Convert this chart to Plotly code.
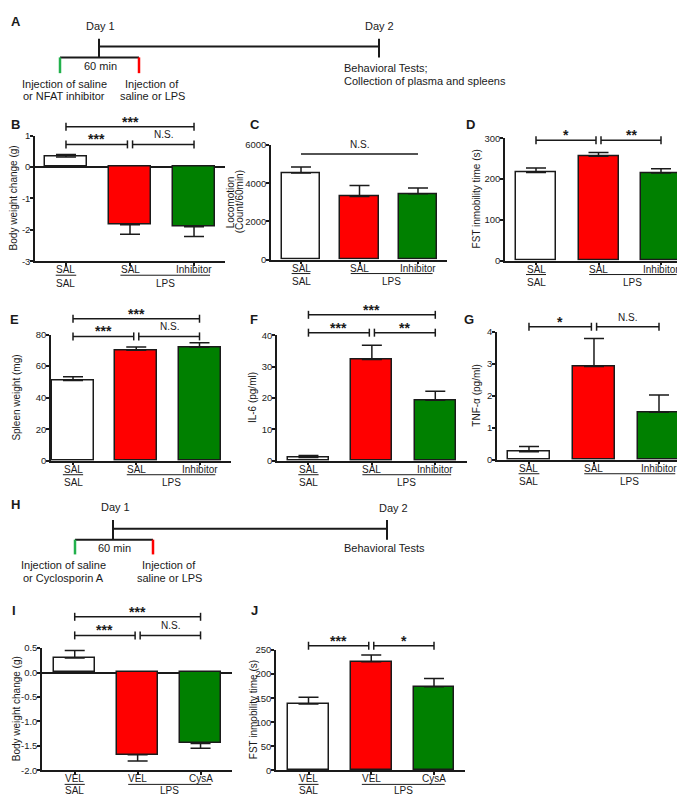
import plotly.graph_objects as go

W, H = 685, 795
INK = "#1a1a1a"
FONT = "Liberation Sans, Arial, sans-serif"

# ---------------- data ----------------
cat_top_nfat = ["SAL", "SAL", "Inhibitor"]
cat_top_cysa = ["VEL", "VEL", "CysA"]
cat_bottom = ["SAL", "LPS"]

bw_mean = [0.32, -1.84, -1.90]
bw_sem = [0.08, 0.30, 0.31]
loco_mean = [4540, 3310, 3450]
loco_sem = [310, 580, 300]
fst_mean = [216, 256, 215]
fst_sem = [11, 9, 10]
spleen_mean = [50.8, 70.0, 71.9]
spleen_sem = [2.5, 2.1, 2.9]
il6_mean = [1.05, 32.3, 19.3]
il6_sem = [0.65, 4.6, 2.9]
tnf_mean = [0.25, 2.91, 1.48]
tnf_sem = [0.16, 0.87, 0.54]
bw2_mean = [0.30, -1.68, -1.45]
bw2_sem = [0.15, 0.13, 0.10]
fst2_mean = [138, 226, 174]
fst2_sem = [14, 14, 17]

bar_colors = ["#ffffff", "#ff0000", "#008000"]

# significance brackets: (from category, to category, level, label)
sig_B = [(0, 2, 1.28, "***"), (0, 1, 0.72, "***"), (1, 2, 0.72, "N.S.")]
sig_C = [(0, 2, 5530, "N.S.")]
sig_D = [(0, 1, 295, "*"), (1, 2, 295, "**")]
sig_E = [(0, 2, 90, "***"), (0, 1, 78.8, "***"), (1, 2, 78.8, "N.S.")]
sig_F = [(0, 2, 46.6, "***"), (0, 1, 40.9, "***"), (1, 2, 40.9, "**")]
sig_G = [(0, 1, 4.15, "*"), (1, 2, 4.15, "N.S.")]
sig_I = [(0, 2, 1.14, "***"), (0, 1, 0.76, "***"), (1, 2, 0.76, "N.S.")]
sig_J = [(0, 1, 259, "***"), (1, 2, 259, "*")]

ticks_B = [-3, -2, -1, 0, 1]
ticklab_B = ["-3", "-2", "-1", "0", "1"]
ticks_C = [0, 2000, 4000, 6000]
ticks_D = [0, 100, 200, 300]
ticks_E = [0, 20, 40, 60, 80]
ticks_F = [0, 10, 20, 30, 40]
ticks_G = [0, 1, 2, 3, 4]
ticks_I = [-2.0, -1.5, -1.0, -0.5, 0.0, 0.5]
ticklab_I = ["-2.0", "-1.5", "-1.0", "-0.5", "0.0", "0.5"]
ticks_J = [0, 50, 100, 150, 200, 250]

# ---------------- panel layout (pixels) ----------------
panels = [
    dict(letter="B", lpos=(8, 112), mean=bw_mean, sem=bw_sem, cats=cat_top_nfat, sig=sig_B,
         yt=ticks_B, ytl=ticklab_B, yr=[-3, 1], xr=[-0.484, 2.484], box=(27, 217, 123.3, 250.7),
         title=["Body weight change (g)"], tx=[5], bw=0.656, lps_end=2.25, zero=True, nst=True, dy=22),
    dict(letter="C", lpos=(247, 112), mean=loco_mean, sem=loco_sem, cats=cat_top_nfat, sig=sig_C,
         yt=ticks_C, ytl=None, yr=[0, 6000], xr=[-0.513, 2.496], box=(263, 439, 133, 249),
         title=["Locomotion", "(Count/60min)"], tx=[222, 231], bw=0.65, lps_end=2.25, zero=False,
         nst=False, dy=22),
    dict(letter="D", lpos=(462, 112), mean=fst_mean, sem=fst_sem, cats=cat_top_nfat, sig=sig_D,
         yt=ticks_D, ytl=None, yr=[0, 300], xr=[-0.496, 2.496], box=(497, 684, 126, 250),
         title=["FST inmobility time (s)"], tx=[468], bw=0.64, lps_end=2.25, zero=False, nst=True, dy=22),
    dict(letter="E", lpos=(6, 310), mean=spleen_mean, sem=spleen_sem, cats=cat_top_nfat, sig=sig_E,
         yt=ticks_E, ytl=None, yr=[0, 80], xr=[-0.348, 2.498], box=(43, 223, 325, 453),
         title=["Spleen weight (mg)"], tx=[9], bw=0.664, lps_end=2.25, zero=False, nst=True, dy=21.5),
    dict(letter="F", lpos=(246, 310), mean=il6_mean, sem=il6_sem, cats=cat_top_nfat, sig=sig_F,
         yt=ticks_F, ytl=None, yr=[0, 40], xr=[-0.496, 2.5], box=(269, 459, 326, 453),
         title=["IL-6 (pg/ml)"], tx=[244], bw=0.646, lps_end=2.25, zero=False, nst=True, dy=21.5),
    dict(letter="G", lpos=(461, 310), mean=tnf_mean, sem=tnf_sem, cats=cat_top_nfat, sig=sig_G,
         yt=ticks_G, ytl=None, yr=[0, 4], xr=[-0.492, 2.523], box=(489, 685, 322, 452),
         title=["TNF-α (pg/ml)"], tx=[469], bw=0.66, lps_end=2.25, zero=False, nst=True, dy=21.5),
    dict(letter="I", lpos=(6, 605), mean=bw2_mean, sem=bw2_sem, cats=cat_top_cysa, sig=sig_I,
         yt=ticks_I, ytl=ticklab_I, yr=[-2, 0.5], xr=[-0.52, 2.5], box=(34, 224, 643, 767),
         title=["Body weight change (g)"], tx=[8], bw=0.654, lps_end=2.17, zero=True, nst=True, dy=20),
    dict(letter="J", lpos=(246, 605), mean=fst2_mean, sem=fst2_sem, cats=cat_top_cysa, sig=sig_J,
         yt=ticks_J, ytl=None, yr=[0, 250], xr=[-0.518, 2.494], box=(268, 457, 645, 767),
         title=["FST inmobility time (s)"], tx=[245], bw=0.653, lps_end=2.17, zero=False, nst=True, dy=20),
]


def pxx(x):
    return x / W


def pxy(y):
    return 1 - y / H


fig = go.Figure()
shapes = []
annos = []
layout_axes = {}
LW = 1.5
GAP = 0.04


def line_style(w=LW, c=INK):
    return dict(color=c, width=w)


for i, p in enumerate(panels, start=1):
    xa = "x" if i == 1 else f"x{i}"
    ya = "y" if i == 1 else f"y{i}"
    xkey = "xaxis" if i == 1 else f"xaxis{i}"
    ykey = "yaxis" if i == 1 else f"yaxis{i}"
    x0, x1, yt, yb = p["box"]
    cats_idx = list(range(len(p["mean"])))

    up = [s if m >= 0 else 0 for m, s in zip(p["mean"], p["sem"])]
    dn = [0 if m >= 0 else s for m, s in zip(p["mean"], p["sem"])]
    fig.add_trace(go.Bar(
        x=cats_idx, y=p["mean"], width=p["bw"], xaxis=xa, yaxis=ya,
        marker=dict(color=bar_colors, line=dict(color=INK, width=LW)),
        error_y=dict(type="data", symmetric=False, array=up, arrayminus=dn,
                     color=INK, thickness=LW, width=10),
        hoverinfo="skip", showlegend=False))

    layout_axes[xkey] = dict(
        domain=[pxx(x0), pxx(x1)], anchor=ya, range=p["xr"], showline=True,
        linecolor=INK, linewidth=LW, ticks="outside", ticklen=3, tickwidth=LW,
        tickcolor=INK, tickvals=cats_idx, showticklabels=False, showgrid=False,
        zeroline=False, fixedrange=True)
    yax = dict(
        domain=[pxy(yb), pxy(yt)], anchor=xa, range=p["yr"], showline=True,
        linecolor=INK, linewidth=LW, ticks="outside", ticklen=3, tickwidth=LW,
        tickcolor=INK, tickvals=p["yt"], showgrid=False, zeroline=p["zero"],
        zerolinecolor=INK, zerolinewidth=LW, fixedrange=True, ticklabelstandoff=-2,
        tickfont=dict(family=FONT, size=9.5, color="#222222"))
    if p["ytl"] is not None:
        yax["ticktext"] = p["ytl"]
    layout_axes[ykey] = yax

    xr0, xr1 = p["xr"]
    yr0, yr1 = p["yr"]

    def xd(c):
        return (c - xr0) / (xr1 - xr0)

    def yd(v):
        return (v - yr0) / (yr1 - yr0)

    # significance brackets
    for (a, b, lvl, lab) in p["sig"]:
        c0 = a + (GAP if a == 1 else 0)
        c1 = b - (GAP if b == 1 else 0)
        ylev = yd(lvl)
        shapes.append(dict(type="line", xref=f"{xa} domain", yref=f"{ya} domain",
                           x0=xd(c0), x1=xd(c1), y0=ylev, y1=ylev, line=line_style()))
        if p["nst"]:
            for cc in (c0, c1):
                shapes.append(dict(type="line", xref=f"{xa} domain", yref=f"{ya} domain",
                                   x0=xd(cc), x1=xd(cc), ysizemode="pixel", yanchor=ylev,
                                   y0=-4, y1=4, line=line_style()))
        star = lab.startswith("*")
        annos.append(dict(xref=xa, yref=f"{ya} domain", x=(c0 + c1) / 2, y=ylev,
                          text=f"<b>{lab}</b>" if star else lab, showarrow=False,
                          yanchor="bottom", yshift=-5 if star else 2,
                          font=dict(family=FONT, size=14 if star else 10, color=INK)))

    # two-level category labels
    for c, lab in zip(cats_idx, p["cats"]):
        annos.append(dict(xref=xa, yref=f"{ya} domain", x=c, y=0, yshift=-8.5,
                          text=lab, showarrow=False, yanchor="middle",
                          font=dict(family=FONT, size=10, color=INK)))
    shapes.append(dict(type="line", xref=f"{xa} domain", yref=f"{ya} domain",
                       x0=xd(-0.16), x1=xd(0.16), ysizemode="pixel", yanchor=0,
                       y0=-14, y1=-14, line=line_style(1)))
    shapes.append(dict(type="line", xref=f"{xa} domain", yref=f"{ya} domain",
                       x0=xd(0.85), x1=xd(p["lps_end"]), ysizemode="pixel", yanchor=0,
                       y0=-14, y1=-14, line=line_style(1)))
    annos.append(dict(xref=xa, yref=f"{ya} domain", x=0, y=0, yshift=-p["dy"],
                      text=cat_bottom[0], showarrow=False, yanchor="middle",
                      font=dict(family=FONT, size=10, color=INK)))
    annos.append(dict(xref=xa, yref=f"{ya} domain", x=(0.85 + p["lps_end"]) / 2, y=0,
                      yshift=-p["dy"], text=cat_bottom[1], showarrow=False, yanchor="middle",
                      font=dict(family=FONT, size=10, color=INK)))

    # y-axis title (one annotation per line)
    for ttl, tx in zip(p["title"], p["tx"]):
        annos.append(dict(xref="paper", yref="paper", x=pxx(tx), y=pxy((yt + yb) / 2),
                          text=ttl, textangle=-90, showarrow=False,
                          xanchor="center", yanchor="middle",
                          font=dict(family=FONT, size=10, color=INK)))
    # panel letter
    annos.append(dict(xref="paper", yref="paper", x=pxx(p["lpos"][0]), y=pxy(p["lpos"][1]),
                      text=f"<b>{p['letter']}</b>", showarrow=False,
                      xanchor="center", yanchor="middle",
                      font=dict(family=FONT, size=13, color=INK)))


# ---------------- timeline schematics (A and H) ----------------
GREEN_T = "#22b14c"
RED_T = "#ff0000"


def pline(xa_, ya_, xb_, yb_, color=INK, w=2):
    shapes.append(dict(type="line", xref="paper", yref="paper",
                       x0=pxx(xa_), y0=pxy(ya_), x1=pxx(xb_), y1=pxy(yb_),
                       line=dict(color=color, width=w)))


def ptext(x, y, text, xanchor="center", size=11):
    annos.append(dict(xref="paper", yref="paper", x=pxx(x), y=pxy(y), text=text,
                      showarrow=False, xanchor=xanchor, yanchor="middle",
                      font=dict(family=FONT, size=size, color=INK)))


def timeline(letter, lpos, d1, d2, ytop, ymid, ybot, x_g, x_r, yend, d1txt, d2txt,
             left_lines, left_c, right_lines, right_c, line_ys, beh_lines, beh_x, beh_ys):
    annos.append(dict(xref="paper", yref="paper", x=pxx(lpos[0]), y=pxy(lpos[1]),
                      text=f"<b>{letter}</b>", showarrow=False, xanchor="center",
                      yanchor="middle", font=dict(family=FONT, size=13, color=INK)))
    pline(d1, ytop, d1, ybot)
    pline(d1, ymid, d2, ymid)
    pline(d2, ytop, d2, ybot)
    pline(x_g, ybot, x_r, ybot)
    pline(x_g, ybot, x_g, yend, GREEN_T, 2.5)
    pline(x_r, ybot, x_r, yend, RED_T, 2.5)
    ptext(d1txt[0], d1txt[1], "Day 1")
    ptext(d2txt[0], d2txt[1], "Day 2")
    ptext(d1 + 1, (ybot + yend) / 2 + 1, "60 min")
    for t, yy in zip(left_lines, line_ys):
        ptext(left_c, yy, t)
    for t, yy in zip(right_lines, line_ys):
        ptext(right_c, yy, t)
    for t, yy in zip(beh_lines, beh_ys):
        ptext(beh_x, yy, t, xanchor="left")


timeline("A", (8, 8), 91, 371, 25, 33, 44, 52, 131, 60, (92, 12), (371, 12),
         ["Injection of saline", "or NFAT inhibitor"], 56,
         ["Injection of", "saline or LPS"], 144, [71, 83],
         ["Behavioral Tests;", "Collection of plasma and spleens"], 334, [55, 68])
timeline("H", (7, 497), 105, 379, 513, 522, 533, 67, 145, 548, (107, 500), (385, 501),
         ["Injection of saline", "or Cyclosporin A"], 55,
         ["Injection of", "saline or LPS"], 161, [559, 572],
         ["Behavioral Tests"], 334, [541])

fig.update_layout(
    width=W, height=H, margin=dict(l=0, r=0, t=0, b=0),
    paper_bgcolor="white", plot_bgcolor="white", showlegend=False,
    shapes=shapes, annotations=annos, bargap=0, **layout_axes)

fig.write_html("out.html")
